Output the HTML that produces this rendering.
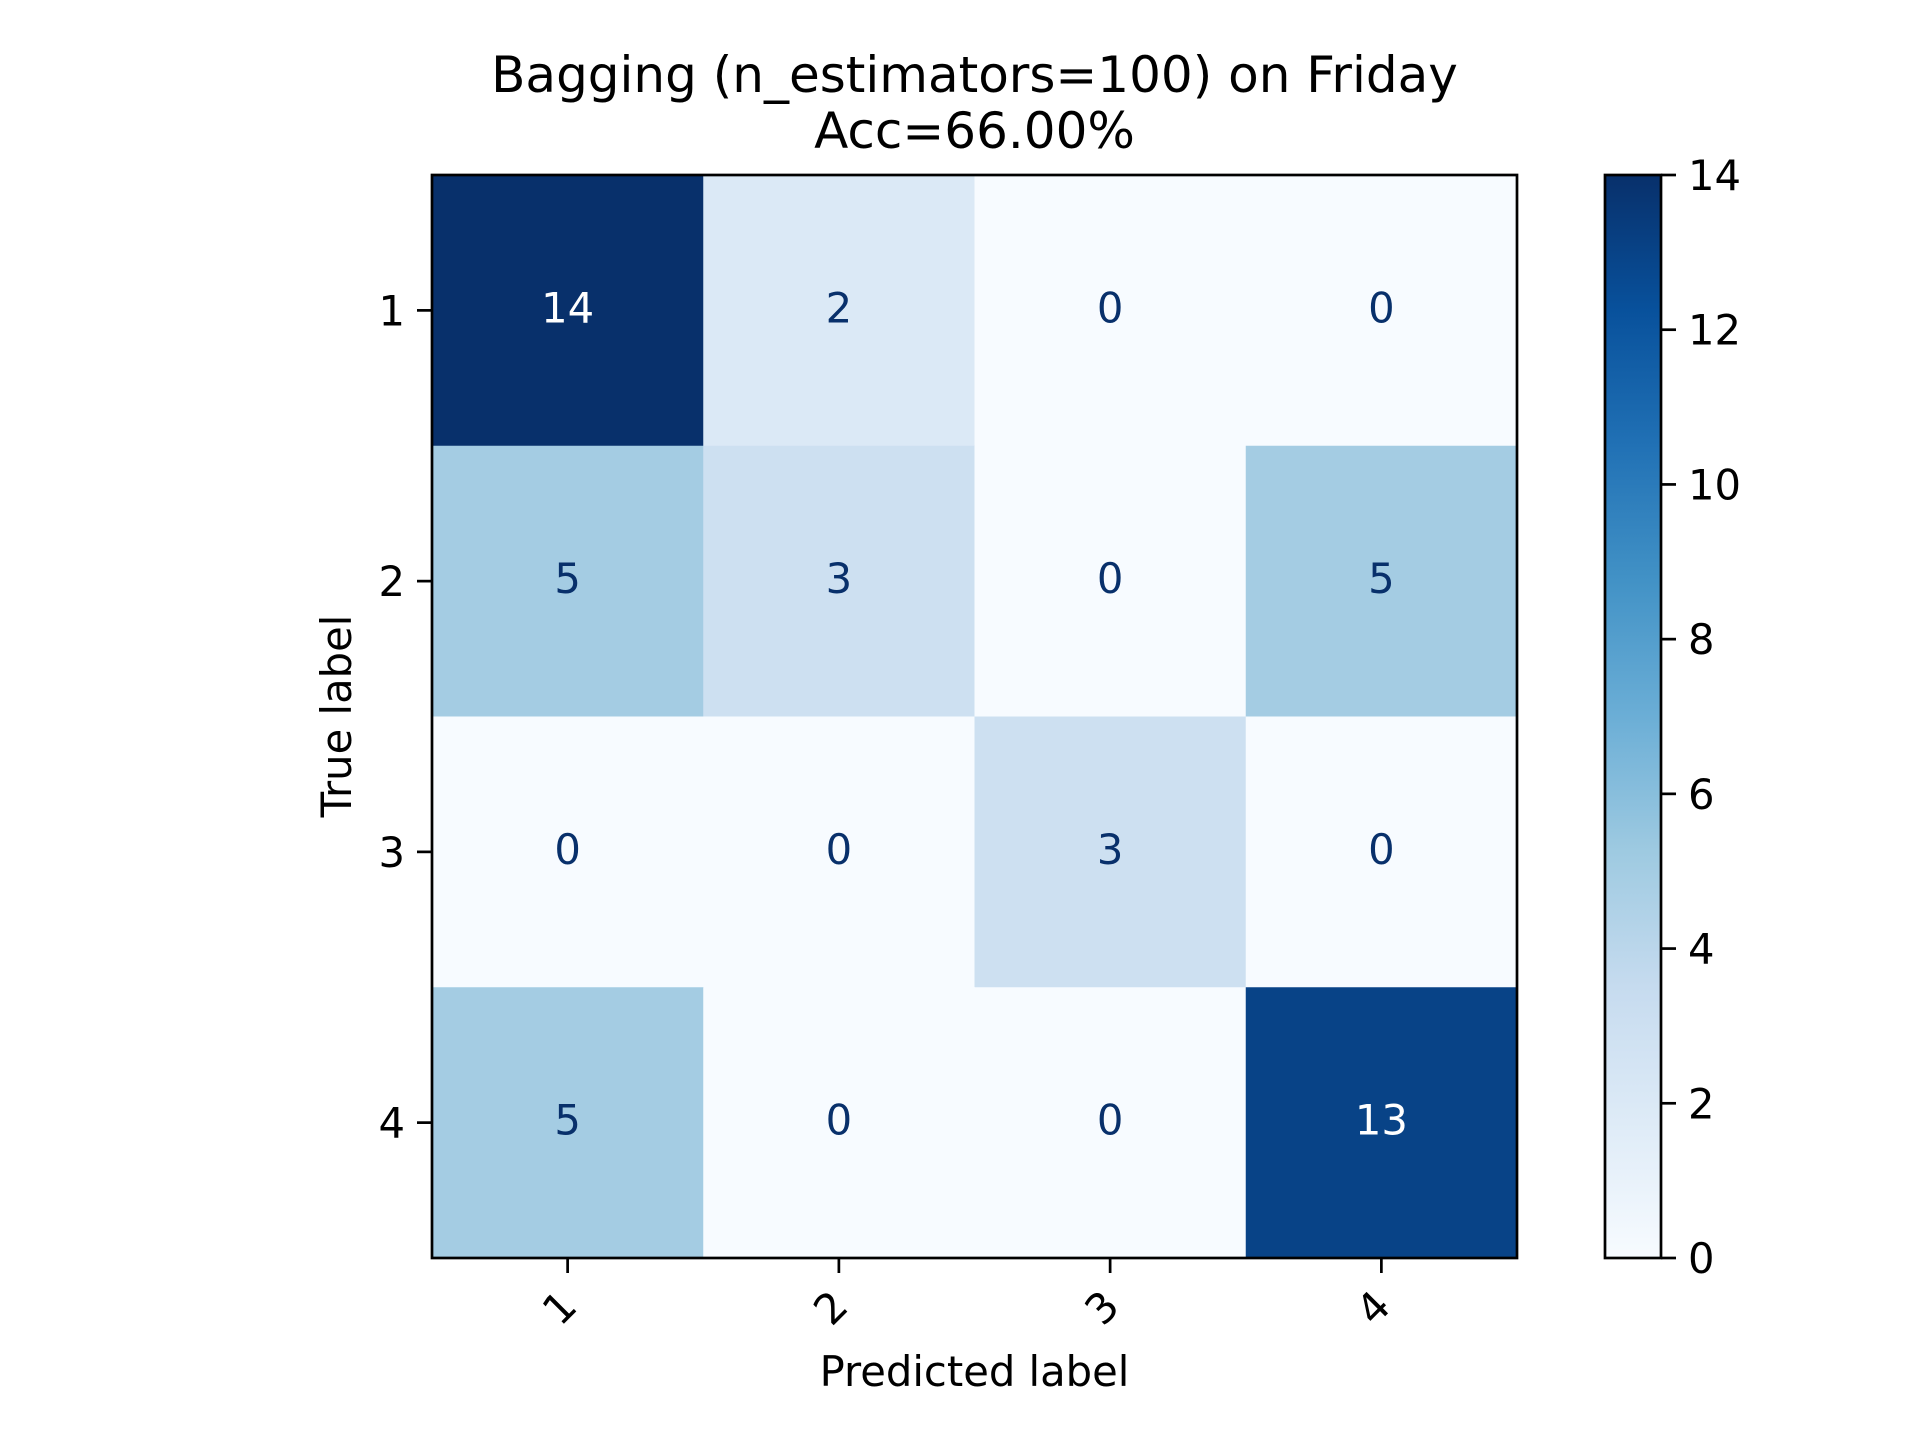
<!DOCTYPE html>
<html><head><meta charset="utf-8"><style>
html,body{margin:0;padding:0;background:#fff;}
svg{display:block;font-family:"DejaVu Sans","Liberation Sans",sans-serif;}
</style></head><body>
<svg id="chart" width="1920" height="1440" viewBox="0 0 1920 1440" xmlns="http://www.w3.org/2000/svg">
<rect width="1920" height="1440" fill="#fff"/>
<text x="974.5" y="92" font-size="50" text-anchor="middle">Bagging (n_estimators=100) on Friday</text>
<text x="974.5" y="148" font-size="50" text-anchor="middle">Acc=66.00%</text>
<text x="974.5" y="1386" font-size="41.7" text-anchor="middle">Predicted label</text>
<text x="0" y="0" font-size="41.7" text-anchor="middle" transform="translate(351,716) rotate(-90)">True label</text>
<g id="cells"></g>
<g id="axes"></g>
<defs><linearGradient id="cbgrad" x1="0" y1="1" x2="0" y2="0"></linearGradient></defs>
<g id="cbar"></g>
</svg>
<script>
const labels = ["1","2","3","4"];
const row1 = [14,2,0,0];
const row2 = [5,3,0,5];
const row3 = [0,0,3,0];
const row4 = [5,0,0,13];
const matrix = [row1,row2,row3,row4];
const cbTicks = [0,2,4,6,8,10,12,14];
const vmin = 0, vmax = 14;

const NS="http://www.w3.org/2000/svg";
const L=432,T=175,R=1517,B=1258;
const n=labels.length, cw=(R-L)/n, ch=(B-T)/n;
const xPos=i=>L+cw*i, yPos=i=>T+ch*i;
const stops=["#f7fbff","#deebf7","#c6dbef","#9ecae1","#6baed6","#4292c6","#2171b5","#08519c","#08306b"];
function hex(h){return [1,3,5].map(k=>parseInt(h.substr(k,2),16));}
function blues(t){t=Math.max(0,Math.min(1,t));const p=t*8,i=Math.min(7,Math.floor(p)),f=p-i;const a=hex(stops[i]),b=hex(stops[i+1]);return "rgb("+a.map((v,k)=>Math.round(v+(b[k]-v)*f)).join(",")+")";}
function el(tag,attrs,parent){const e=document.createElementNS(NS,tag);for(const k in attrs)e.setAttribute(k,attrs[k]);parent.appendChild(e);return e;}
const cells=document.getElementById("cells"), axes=document.getElementById("axes"), cbar=document.getElementById("cbar");
matrix.forEach((row,r)=>row.forEach((v,c)=>{
  const t=(v-vmin)/(vmax-vmin);
  const rc=el("rect",{x:xPos(c),y:yPos(r),width:cw+0.5,height:ch+0.5,fill:blues(t)},cells);
  
  
  const tx=el("text",{x:xPos(c)+cw/2,y:yPos(r)+ch/2+12,"font-size":41.7,"text-anchor":"middle",fill:v>(vmax+vmin)/2?"#ffffff":"#08306b"},cells);
  tx.textContent=v;
  
  
}));
const fr=el("rect",{x:L,y:T,width:R-L,height:B-T,fill:"none",stroke:"#000","stroke-width":2.7},axes);


labels.forEach((lab,i)=>{
  const cx=xPos(i)+cw/2, cy=yPos(i)+ch/2;
  el("line",{x1:cx,y1:B,x2:cx,y2:B+15,stroke:"#000","stroke-width":2.7},axes);
  const xt=el("text",{x:0,y:0,"font-size":41.7,"text-anchor":"middle",transform:`translate(${cx+2},${B+60}) rotate(-45)`},axes);
  xt.textContent=lab;
  
  
  el("line",{x1:L-15,y1:cy,x2:L,y2:cy,stroke:"#000","stroke-width":2.7},axes);
  const yt=el("text",{x:L-27,y:cy+15,"font-size":41.7,"text-anchor":"end"},axes);
  yt.textContent=lab;
  
  
});
const CL=1605,CR=1661;
const g=document.getElementById("cbgrad");
stops.forEach((s,i)=>el("stop",{offset:(i/8),"stop-color":s},g));
const cb=el("rect",{x:CL,y:T,width:CR-CL,height:B-T,fill:"url(#cbgrad)",stroke:"#000","stroke-width":2.7},cbar);


const cy=v=>B-(v-vmin)/(vmax-vmin)*(B-T);
cbTicks.forEach(v=>{
  el("line",{x1:CR,y1:cy(v),x2:CR+15,y2:cy(v),stroke:"#000","stroke-width":2.7},cbar);
  const t=el("text",{x:CR+27,y:cy(v)+15,"font-size":41.7},cbar);
  t.textContent=v;
  
  
});
</script>
</body></html>
